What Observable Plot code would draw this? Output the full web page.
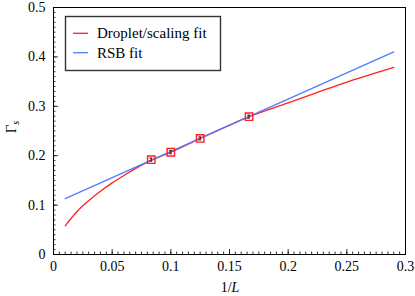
<!DOCTYPE html>
<html><head><meta charset="utf-8">
<script src="https://cdn.jsdelivr.net/npm/d3@7"></script>
<script src="https://cdn.jsdelivr.net/npm/@observablehq/plot@0.6"></script>
<style>
body{margin:0;background:#fff;}
svg{display:block;}
</style>
</head><body>
<div id="chart"></div>
<script>
// ---- data ----
const seriesNames = ["Droplet/scaling fit", "RSB fit"];
const seriesColors = ["#ff2020", "#4f7dff"];

const dropletX = [0.01, 0.02, 0.03, 0.04, 0.05, 0.06, 0.08, 0.1, 0.125, 0.15, 0.1667, 0.2, 0.225, 0.25, 0.27, 0.29];
const dropletY = [0.058, 0.087, 0.109, 0.128, 0.145, 0.160, 0.187, 0.207, 0.235, 0.262, 0.279, 0.307, 0.328, 0.349, 0.364, 0.379];

const rsbX = [0.01, 0.29];
const rsbY = [0.113, 0.41];

const pointX = [1/12, 1/10, 1/8, 1/6];
const pointY = [0.192, 0.207, 0.235, 0.279];
const pointErr = [0.003, 0.003, 0.003, 0.003];

const xTicks = [0, 0.05, 0.1, 0.15, 0.2, 0.25, 0.3];
const yTicks = [0, 0.1, 0.2, 0.3, 0.4, 0.5];
const xTickLabels = ["0", "0.05", "0.1", "0.15", "0.2", "0.25", "0.3"];
const yTickLabels = ["0", "0.1", "0.2", "0.3", "0.4", "0.5"];

// ---- build ----
const droplet = dropletX.map((x, i) => ({x, y: dropletY[i]}));
const rsb = rsbX.map((x, i) => ({x, y: rsbY[i]}));
const points = pointX.map((x, i) => ({x, y: pointY[i], e: pointErr[i]}));
const xMinor = d3.range(0, 0.3001, 0.005);
const yMinor = d3.range(0, 0.5001, 0.01);

const W = 415, H = 296, mL = 53, mR = 10, mT = 7, mB = 42;
const fw = W - mL - mR, fh = H - mT - mB;
const font = "'Liberation Serif', 'Times New Roman', serif";

const plot = Plot.plot({
  width: W, height: H,
  marginLeft: mL, marginRight: mR, marginTop: mT, marginBottom: mB,
  style: {fontFamily: font, fontSize: "14px", color: "black", background: "white"},
  x: {domain: [0, 0.3]},
  y: {domain: [0, 0.5]},
  marks: [
    Plot.axisX(xTicks, {tickSize: 0, tickPadding: 7, tickFormat: d => xTickLabels[xTicks.indexOf(d)], label: null, fontSize: 14, fontFamily: font}),
    Plot.axisY(yTicks, {tickSize: 0, tickPadding: 8, tickFormat: d => yTickLabels[yTicks.indexOf(d)], label: null, fontSize: 14, fontFamily: font}),
    Plot.tickX(xMinor, {x: d => d, insetTop: fh - 2.5, stroke: "black", strokeWidth: 0.8}),
    Plot.tickX(xTicks, {x: d => d, insetTop: fh - 5, stroke: "black", strokeWidth: 0.8}),
    Plot.tickY(yMinor, {y: d => d, insetRight: fw - 2.5, stroke: "black", strokeWidth: 0.8}),
    Plot.tickY(yTicks, {y: d => d, insetRight: fw - 5, stroke: "black", strokeWidth: 0.8}),
    Plot.line(droplet, {x: "x", y: "y", stroke: seriesColors[0], strokeWidth: 1.3, curve: "monotone-x"}),
    Plot.line(rsb, {x: "x", y: "y", stroke: seriesColors[1], strokeWidth: 1.3}),
    Plot.ruleX(points, {x: "x", y1: d => d.y - d.e, y2: d => d.y + d.e, stroke: "#6a0000", strokeWidth: 1.1}),
    Plot.ruleY(points, {y: d => d.y - d.e, x1: d => d.x - 0.0012, x2: d => d.x + 0.0012, stroke: "#6a0000", strokeWidth: 1}),
    Plot.ruleY(points, {y: d => d.y + d.e, x1: d => d.x - 0.0012, x2: d => d.x + 0.0012, stroke: "#6a0000", strokeWidth: 1}),
    Plot.dot(points, {x: "x", y: "y", symbol: "square", r: 4.2, stroke: seriesColors[0], strokeWidth: 1.4, fill: "none"}),
    Plot.frame({stroke: "black", strokeWidth: 1})
  ]
});

const svg = d3.select(plot);

// y label  Γ_s
const yl = svg.append("text")
  .attr("transform", "translate(16,127) rotate(-90)")
  .attr("text-anchor", "middle")
  .attr("font-family", font).attr("font-size", 15).attr("fill", "black");
yl.append("tspan").text("Γ");
yl.append("tspan").attr("font-size", 10).attr("font-style", "italic").attr("dy", 3).text("s");

// x label 1/L
const xl = svg.append("text")
  .attr("x", 230).attr("y", 292)
  .attr("text-anchor", "middle")
  .attr("font-family", font).attr("font-size", 14).attr("fill", "black");
xl.append("tspan").text("1/");
xl.append("tspan").attr("font-style", "italic").text("L");

// legend
const lg = svg.append("g");
lg.append("rect").attr("x", 65.5).attr("y", 16.5).attr("width", 155).attr("height", 54)
  .attr("fill", "white").attr("stroke", "#333").attr("stroke-width", 1.4);
seriesNames.forEach((name, i) => {
  const cy = 33.3 + i * 19.4;
  lg.append("line").attr("x1", 73).attr("x2", 88).attr("y1", cy).attr("y2", cy)
    .attr("stroke", seriesColors[i]).attr("stroke-width", 1.3);
  lg.append("text").attr("x", 97).attr("y", cy + 5)
    .attr("text-anchor", "start")
    .attr("font-family", font).attr("font-size", 15).attr("fill", "black").text(name);
});

document.getElementById("chart").appendChild(plot);
</script>
</body></html>
